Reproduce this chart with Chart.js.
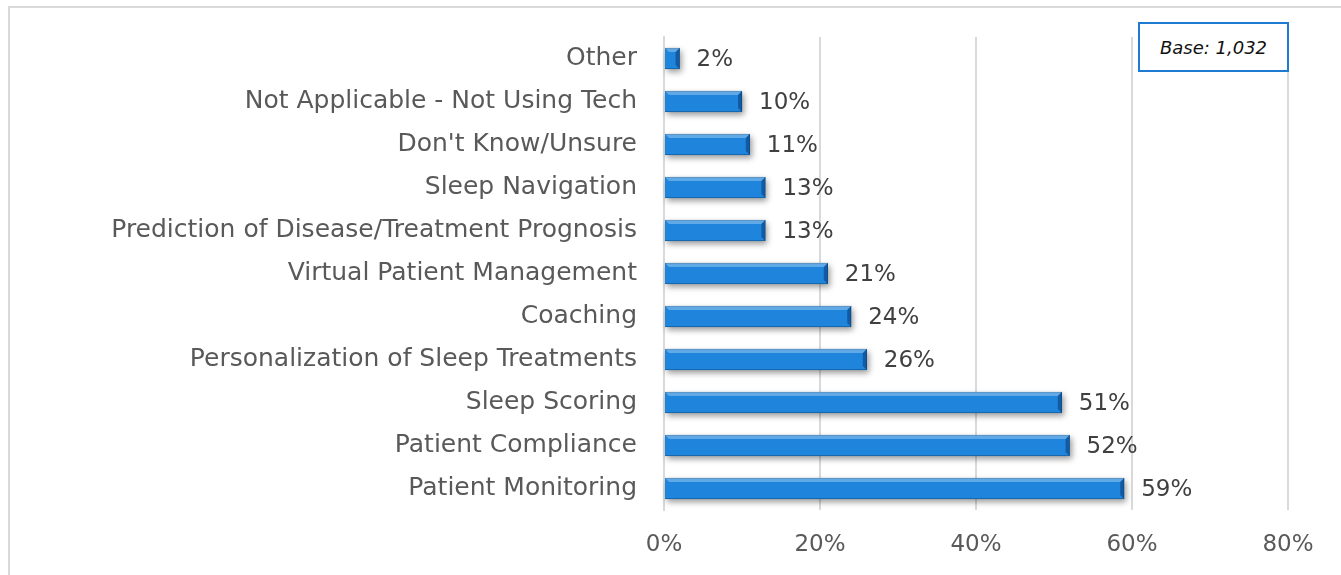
<!DOCTYPE html>
<html>
<head>
<meta charset="utf-8">
<script src="https://cdn.jsdelivr.net/npm/chart.js@4"></script>
<style>
    html, body { margin: 0; padding: 0; background: #fff; }
    #wrap { position: relative; width: 1341px; height: 575px; overflow: hidden; }
    #frame {
        position: absolute; left: 8px; top: 6px; width: 1340px; height: 600px;
        border: 2px solid #d9d9d9; box-sizing: border-box;
    }
    #base {
        position: absolute; left: 1138px; top: 22px; width: 151px; height: 50px;
        box-sizing: border-box; border: 2px solid #1f7ad1; background: #fff;
        font: italic 18px "DejaVu Sans", sans-serif; color: #111;
        display: flex; align-items: center; justify-content: center;
    }
    canvas { position: absolute; left: 0; top: 0; }
</style>
</head>
<body>
<div id="wrap">
    <div id="frame"></div>
    <canvas id="chart" width="1341" height="575"></canvas>
    <div id="base">Base: 1,032</div>
</div>
<script>
const categories = [
    "Other",
    "Not Applicable - Not Using Tech",
    "Don't Know/Unsure",
    "Sleep Navigation",
    "Prediction of Disease/Treatment Prognosis",
    "Virtual Patient Management",
    "Coaching",
    "Personalization of Sleep Treatments",
    "Sleep Scoring",
    "Patient Compliance",
    "Patient Monitoring",
];
const percentages = [2, 10, 11, 13, 13, 21, 24, 26, 51, 52, 59];
const xTicks = [0, 20, 40, 60, 80];

const FONT = '"DejaVu Sans", sans-serif';

function barFill(context) {
    const el = context.element;
    const { ctx } = context.chart;
    if (!el || el.y === undefined) return "#1e84dc";
    const h = 10.5;
    const g = ctx.createLinearGradient(0, el.y - h, 0, el.y + h);
    g.addColorStop(0, "#8dcaf7");
    g.addColorStop(0.18, "#3c9cec");
    g.addColorStop(0.5, "#1a80da");
    g.addColorStop(0.78, "#1670c8");
    g.addColorStop(0.86, "#0f5aa3");
    g.addColorStop(1, "#0b4a88");
    return g;
}

const barLabels = {
    id: "barLabels",
    beforeDatasetsDraw(chart) {
        const ctx = chart.ctx;
        ctx.save();
        ctx.shadowColor = "rgba(0,0,0,0.4)";
        ctx.shadowBlur = 6;
        ctx.shadowOffsetY = 3;
        ctx.shadowOffsetX = 2;
        chart.getDatasetMeta(0).data.forEach((bar) => {
            ctx.fillStyle = "#ffffff";
            ctx.fillRect(bar.base, bar.y - bar.height / 2, bar.x - bar.base, bar.height);
        });
        ctx.restore();
    },
    afterDatasetsDraw(chart) {
        const ctx = chart.ctx;
        const meta = chart.getDatasetMeta(0);
        ctx.save();
        meta.data.forEach((bar, i) => {
            const top = bar.y - bar.height / 2;
            const bot = bar.y + bar.height / 2;
            const b = 4;
            // bevel highlights
            ctx.fillStyle = "rgba(255,255,255,0.3)";
            ctx.beginPath();
            ctx.moveTo(bar.base, top);
            ctx.lineTo(bar.x, top);
            ctx.lineTo(bar.x - b, top + b);
            ctx.lineTo(bar.base + b, top + b);
            ctx.closePath();
            ctx.fill();
            ctx.fillStyle = "rgba(0,30,80,0.4)";
            ctx.beginPath();
            ctx.moveTo(bar.x, top);
            ctx.lineTo(bar.x, bot);
            ctx.lineTo(bar.x - b, bot - b);
            ctx.lineTo(bar.x - b, top + b);
            ctx.closePath();
            ctx.fill();

            ctx.fillStyle = "#404040";
            ctx.font = "23px " + FONT;
            ctx.textAlign = "left";
            ctx.textBaseline = "middle";
            ctx.fillText(percentages[i] + "%", bar.x + 17, bar.y + 2);
        });
        ctx.restore();
    },
};

new Chart(document.getElementById("chart"), {
    type: "bar",
    data: {
        labels: categories,
        datasets: [
            {
                data: percentages,
                backgroundColor: barFill,
                borderColor: "#14609f",
                borderWidth: 1,
                borderSkipped: "start",
                barThickness: 21,
            },
        ],
    },
    options: {
        indexAxis: "y",
        responsive: false,
        animation: false,
        layout: { padding: { top: 37, right: 53, left: 0, bottom: 0 } },
        plugins: {
            legend: { display: false },
            tooltip: { enabled: false },
        },
        scales: {
            x: {
                min: 0,
                max: 80,
                afterBuildTicks: (scale) => {
                    scale.ticks = xTicks.map((v) => ({ value: v }));
                },
                afterFit: (scale) => {
                    scale.height = 65;
                },
                grid: { color: "#d9d9d9", lineWidth: 2, drawTicks: false },
                border: { display: false },
                ticks: {
                    padding: 21,
                    color: "#595959",
                    font: { family: FONT, size: 23 },
                    callback: (value) => value + "%",
                },
            },
            y: {
                afterFit: (scale) => {
                    scale.width = 664;
                    scale.paddingTop = 0;
                    scale.paddingBottom = 0;
                },
                grid: { display: false, drawTicks: false },
                border: { display: true, color: "#d9d9d9", width: 2 },
                ticks: {
                    padding: 27,
                    color: "#595959",
                    font: { family: FONT, size: 25 },
                },
            },
        },
    },
    plugins: [barLabels],
});
</script>
</body>
</html>
